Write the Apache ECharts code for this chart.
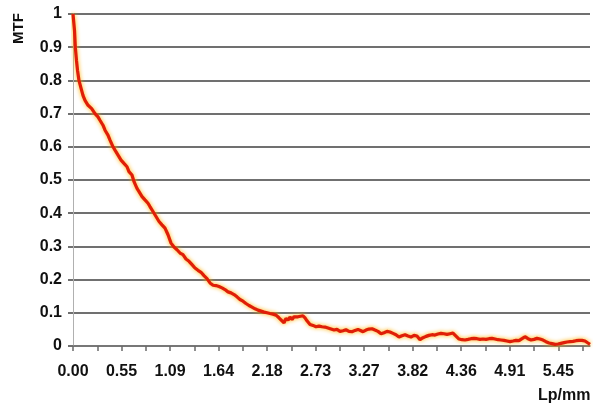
<!DOCTYPE html>
<html>
<head>
<meta charset="utf-8">
<script src="https://cdn.jsdelivr.net/npm/echarts@6/dist/echarts.min.js"></script>
<style>html,body{margin:0;padding:0;background:#fff}#c{width:597px;height:407px}</style>
</head>
<body>
<div id="c"></div>
<script>
// Spatial frequency (Lp/mm)
const lpmm = [0.000,0.017,0.026,0.039,0.051,0.067,0.087,0.112,0.135,0.169,0.210,0.247,0.281,0.303,0.337,0.360,0.393,0.416,0.450,0.472,
0.506,0.540,0.573,0.607,0.629,0.663,0.686,0.719,0.742,0.776,0.809,0.843,0.865,0.899,0.933,0.967,1.000,1.034,1.068,1.102,
1.135,1.169,1.203,1.236,1.270,1.304,1.338,1.371,1.405,1.439,1.472,1.506,1.540,1.574,1.607,1.641,1.675,1.708,1.742,1.776,
1.810,1.843,1.877,1.911,1.944,1.978,2.012,2.046,2.079,2.113,2.147,2.181,2.214,2.248,2.282,2.315,2.349,2.372,2.394,2.417,
2.439,2.462,2.484,2.506,2.529,2.551,2.585,2.608,2.630,2.664,2.698,2.731,2.765,2.799,2.832,2.866,2.900,2.934,2.967,3.001,
3.035,3.068,3.102,3.136,3.170,3.203,3.237,3.260,3.293,3.327,3.361,3.394,3.428,3.462,3.496,3.529,3.563,3.597,3.630,3.664,
3.698,3.732,3.765,3.799,3.833,3.866,3.900,3.934,3.968,4.001,4.035,4.069,4.102,4.136,4.170,4.204,4.237,4.271,4.305,4.339,
4.372,4.406,4.440,4.473,4.507,4.541,4.575,4.608,4.642,4.676,4.709,4.743,4.777,4.811,4.844,4.878,4.912,4.946,4.979,5.013,
5.047,5.080,5.114,5.148,5.182,5.215,5.249,5.283,5.316,5.350,5.384,5.418,5.451,5.485,5.519,5.553,5.586,5.620,5.654,5.687,
5.721,5.755,5.788,5.811];
// MTF values
const mtf = [1.000,0.950,0.900,0.860,0.830,0.800,0.780,0.755,0.740,0.725,0.715,0.700,0.690,0.680,0.665,0.650,0.635,0.620,0.600,0.590,
0.575,0.560,0.550,0.540,0.525,0.515,0.495,0.475,0.465,0.450,0.440,0.430,0.420,0.405,0.390,0.375,0.365,0.355,0.335,0.310,
0.298,0.290,0.280,0.275,0.262,0.255,0.245,0.235,0.228,0.222,0.212,0.203,0.190,0.183,0.182,0.179,0.175,0.170,0.163,0.160,
0.155,0.148,0.140,0.135,0.128,0.122,0.117,0.112,0.108,0.105,0.102,0.100,0.098,0.096,0.093,0.085,0.076,0.070,0.083,0.078,
0.087,0.080,0.088,0.086,0.088,0.090,0.091,0.085,0.076,0.065,0.062,0.058,0.060,0.058,0.057,0.054,0.051,0.048,0.050,0.044,
0.046,0.049,0.044,0.043,0.047,0.050,0.046,0.043,0.048,0.051,0.052,0.048,0.044,0.037,0.040,0.044,0.042,0.038,0.034,0.027,
0.031,0.034,0.030,0.027,0.032,0.030,0.019,0.025,0.029,0.032,0.034,0.033,0.036,0.038,0.037,0.035,0.037,0.039,0.030,0.021,
0.019,0.018,0.020,0.022,0.023,0.022,0.020,0.021,0.020,0.022,0.023,0.021,0.019,0.018,0.017,0.015,0.013,0.015,0.017,0.016,
0.022,0.028,0.022,0.018,0.020,0.023,0.021,0.018,0.013,0.009,0.007,0.005,0.006,0.008,0.010,0.012,0.013,0.014,0.016,0.017,
0.017,0.015,0.009,0.005];
// x-axis ticks and labels
const xTickValues = [0,0.2727,0.5455,0.8182,1.0909,1.3636,1.6364,1.9091,2.1818,2.4545,2.7273,3.0,3.2727,3.5455,3.8182,4.0909,4.3636,4.6364,4.9091,5.1818,5.4545,5.7273];
const xLabelValues = [0,0.5455,1.0909,1.6364,2.1818,2.7273,3.2727,3.8182,4.3636,4.9091,5.4545];
const xName = 'Lp/mm';
const yName = 'MTF';

const pairs = lpmm.map((x, i) => [x, mtf[i]]);
const FONT = '"Liberation Sans", Arial, sans-serif';
const chart = echarts.init(document.getElementById('c'), null, {renderer: 'canvas'});
chart.setOption({
  animation: false,
  backgroundColor: '#ffffff',
  grid: {left: 73, right: 7, top: 14, bottom: 61, containLabel: false},
  xAxis: {
    type: 'value', min: 0, max: 5.811,
    axisLine: {show: true, lineStyle: {color: '#7a7a7a', width: 1.5}},
    axisTick: {show: true, customValues: xTickValues, length: 5, lineStyle: {color: '#6a6a6a', width: 1.5}},
    axisLabel: {show: true, customValues: xLabelValues, margin: 18,
      formatter: v => v.toFixed(2),
      color: '#111', fontSize: 16, fontWeight: 'bold', fontFamily: FONT},
    splitLine: {show: false}
  },
  yAxis: {
    type: 'value', min: 0, max: 1, interval: 0.1,
    axisLine: {show: true, lineStyle: {color: '#b0b0b0', width: 1}},
    axisTick: {show: true, length: 5, lineStyle: {color: '#707070', width: 2}},
    axisLabel: {margin: 11, color: '#111', fontSize: 16, fontWeight: 'bold', fontFamily: FONT,
      formatter: v => (v === 0 ? '0' : (v === 1 ? '1' : v.toFixed(1)))},
    splitLine: {show: true, lineStyle: {color: '#707070', width: 2}}
  },
  graphic: [
    {type: 'text', left: 538, top: 388, style: {text: xName, fill: '#111', font: 'bold 16px ' + FONT}},
    {type: 'text', x: 11, y: 44, rotation: Math.PI / 2,
      style: {text: yName, fill: '#111', font: 'bold 15px ' + FONT, textAlign: 'left', textVerticalAlign: 'top'}}
  ],
  series: [{
    type: 'line', data: pairs, showSymbol: false, clip: false, smooth: false,
    lineStyle: {color: '#e01e08', width: 3.2, shadowColor: 'rgba(255,175,0,1)', shadowBlur: 4},
    z: 5
  }]
});
</script>
</body>
</html>
